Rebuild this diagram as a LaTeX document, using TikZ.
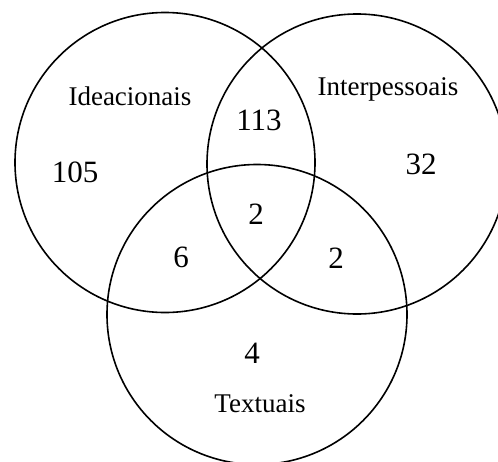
\documentclass[tikz,border=0pt]{standalone}
\usepackage{fontspec}
\setmainfont{Liberation Serif}
\begin{document}
\begin{tikzpicture}[x=1pt,y=-1pt,
  venn/.style={draw=black,line width=1.6pt},
  lbl/.style={anchor=base,inner sep=0pt,font=\fontsize{27}{30}\selectfont},
  num/.style={anchor=base,inner sep=0pt,font=\fontsize{31}{36}\selectfont}]
\useasboundingbox (0,0) rectangle (498,461);
\draw[venn] (165,162.5) circle[radius=150];
\draw[venn] (357,164) circle[radius=150];
\draw[venn] (257,314.5) circle[radius=150];
\node[lbl] (ide) at (130,105) {Ideacionais};
\node[lbl] (inter) at (388,95) {Interpessoais};
\node[lbl] (text) at (260,412) {Textuais};
\node[num] (n105) at (75,182) {105};
\node[num] (n113) at (259,130) {113};
\node[num] (n32) at (421,174) {32};
\node[num] (n2c) at (256,224) {2};
\node[num] (n6) at (181,267) {6};
\node[num] (n2r) at (336,268) {2};
\node[num] (n4) at (252,363) {4};
\end{tikzpicture}
\end{document}
